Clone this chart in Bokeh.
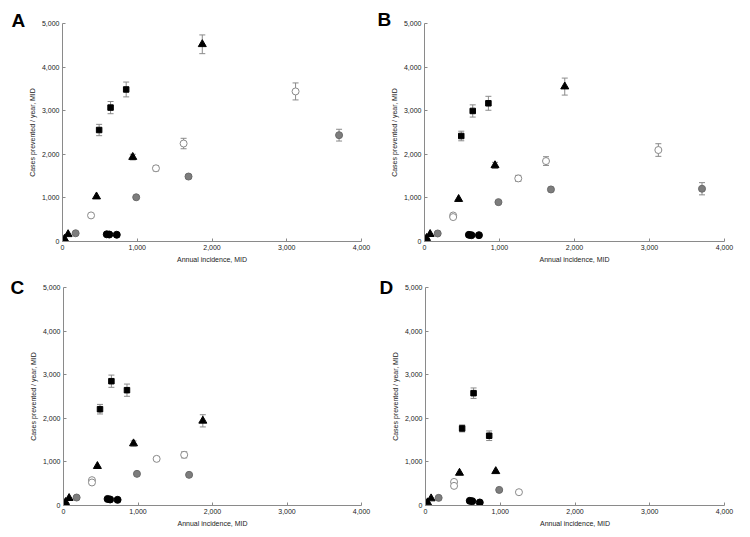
from bokeh.plotting import figure
from bokeh.models import (ColumnDataSource, Whisker, TeeHead, NumeralTickFormatter,
                          FixedTicker, Label, Range1d)
from bokeh.layouts import column, row
from bokeh.embed import file_html
from bokeh.resources import INLINE

# ---------------- data ----------------
X_TICKS = [0, 1000, 2000, 3000, 4000]
Y_TICKS = [0, 1000, 2000, 3000, 4000, 5000]
X_LABEL = "Annual incidence, MID"
Y_LABEL = "Cases prevented / year, MID"

TRI_X = [27, 75, 455, 940, 1870]
SQ_X = [490, 643, 852]
BLK_X = [592, 626, 726]
GREY_X = [176, 986, 1686, 3700]

# Panel A
A_TRI_Y = [60, 165, 1030, 1936, 4523]
A_TRI_E = [0, 0, 0, 65, 215]
A_SQ_Y = [2557, 3071, 3487]
A_SQ_E = [130, 140, 170]
A_BLK_Y = [165, 160, 155]
A_GREY_Y = [189, 1014, 1490, 2439]
A_GREY_E = [0, 0, 50, 135]
A_OPEN_X = [382, 1250, 1620, 3118]
A_OPEN_Y = [598, 1679, 2247, 3442]
A_OPEN_E = [0, 60, 120, 195]

# Panel B
B_TRI_Y = [77, 168, 972, 1746, 3553]
B_TRI_E = [0, 0, 0, 70, 195]
B_SQ_Y = [2420, 2994, 3170]
B_SQ_E = [110, 140, 160]
B_BLK_Y = [153, 145, 145]
B_GREY_Y = [184, 903, 1194, 1210]
B_GREY_E = [0, 0, 50, 140]
B_OPEN_X = [382, 382, 1250, 1620, 3118]
B_OPEN_Y = [597, 560, 1447, 1845, 2098]
B_OPEN_E = [0, 0, 70, 100, 145]

# Panel C
C_TRI_Y = [76, 168, 902, 1422, 1942]
C_TRI_E = [0, 0, 0, 60, 140]
C_SQ_Y = [2209, 2851, 2645]
C_SQ_E = [110, 140, 140]
C_BLK_Y = [150, 138, 130]
C_GREY_X = [176, 986, 1686]
C_GREY_Y = [183, 726, 703]
C_GREY_E = [0, 0, 0]
C_OPEN_X = [382, 382, 1250, 1620]
C_OPEN_Y = [581, 528, 1070, 1162]
C_OPEN_E = [0, 0, 40, 70]

# Panel D
D_TRI_X = [27, 75, 455, 940]
D_TRI_Y = [69, 160, 747, 785]
D_TRI_E = [0, 0, 0, 0]
D_SQ_Y = [1768, 2576, 1600]
D_SQ_E = [80, 120, 110]
D_BLK_Y = [107, 99, 69]
D_GREY_X = [176, 986]
D_GREY_Y = [175, 358]
D_GREY_E = [0, 0]
D_OPEN_X = [382, 382, 1250]
D_OPEN_Y = [541, 450, 305]
D_OPEN_E = [0, 0, 0]

AXIS_GREY = "#8a8a8a"
ERR_GREY = "#8a8a8a"
FONT = "Liberation Sans"


def add_series(p, xs, ys, errs, marker, size, fill, line):
    src = ColumnDataSource(dict(x=xs, y=ys))
    ex = [x for x, e in zip(xs, errs) if e > 0]
    ey = [y for y, e in zip(ys, errs) if e > 0]
    ee = [e for e in errs if e > 0]
    if ex:
        esrc = ColumnDataSource(dict(x=ex, up=[y + e for y, e in zip(ey, ee)],
                                     lo=[y - e for y, e in zip(ey, ee)]))
        w = Whisker(source=esrc, base="x", upper="up", lower="lo",
                    line_color=ERR_GREY, line_width=1,
                    upper_head=TeeHead(size=6, line_color=ERR_GREY, line_width=1),
                    lower_head=TeeHead(size=6, line_color=ERR_GREY, line_width=1))
        p.add_layout(w)
    p.scatter("x", "y", source=src, marker=marker, size=size,
              fill_color=fill, line_color=line, line_width=1)


def make_panel(letter, borders, w, h, label_dx, label_dy, data):
    left, right, top, bottom = borders
    p = figure(width=w, height=h, x_range=Range1d(0, 4000), y_range=Range1d(0, 5000),
               output_backend="svg", toolbar_location=None,
               min_border_left=left, min_border_right=right,
               min_border_top=top, min_border_bottom=bottom)
    p.xgrid.visible = False
    p.ygrid.visible = False
    p.outline_line_color = None
    p.background_fill_color = "white"
    p.border_fill_color = "white"
    p.xaxis.ticker = FixedTicker(ticks=X_TICKS)
    p.yaxis.ticker = FixedTicker(ticks=Y_TICKS)
    p.xaxis.axis_label = X_LABEL
    p.yaxis.axis_label = Y_LABEL
    for ax in p.axis:
        ax.formatter = NumeralTickFormatter(format="0,0")
        ax.axis_line_color = AXIS_GREY
        ax.major_tick_line_color = AXIS_GREY
        ax.major_tick_in = 3
        ax.major_tick_out = 0
        ax.minor_tick_line_color = None
        ax.major_label_text_font = FONT
        ax.major_label_text_font_size = "7px"
        ax.major_label_text_color = "#222222"
        ax.major_label_standoff = 3
        ax.axis_label_text_font = FONT
        ax.axis_label_text_font_size = "7px"
        ax.axis_label_text_font_style = "normal"
        ax.axis_label_text_color = "#222222"
        ax.axis_label_standoff = 3

    fh = h - top - bottom
    # panel letter, attached to the right side panel (not clipped to the frame)
    p.add_layout(Label(x=-label_dx, y=fh - label_dy, x_units="screen", y_units="screen",
                       text=letter, text_font=FONT, text_font_size="19px",
                       text_font_style="bold", text_color="black",
                       text_baseline="alphabetic", text_align="left"), "right")

    (tri, sq, blk, grey, opn) = data
    add_series(p, *grey, "circle", 7, "#7d7d7d", "#6a6a6a")
    add_series(p, *opn, "circle", 7, "white", "#8a8a8a")
    add_series(p, *blk, "circle", 7, "black", "black")
    add_series(p, *tri, "triangle", 8, "black", "black")
    add_series(p, *sq, "square", 5.5, "black", "black")
    return p


zero3 = [0, 0, 0]
pa = make_panel("A", (62, 13, 20, 27), 375, 268, 350, 0,
                ((TRI_X, A_TRI_Y, A_TRI_E), (SQ_X, A_SQ_Y, A_SQ_E), (BLK_X, A_BLK_Y, zero3),
                 (GREY_X, A_GREY_Y, A_GREY_E), (A_OPEN_X, A_OPEN_Y, A_OPEN_E)))
pb = make_panel("B", (49, 18, 23, 27), 367, 268, 347, -4,
                ((TRI_X, B_TRI_Y, B_TRI_E), (SQ_X, B_SQ_Y, B_SQ_E), (BLK_X, B_BLK_Y, zero3),
                 (GREY_X, B_GREY_Y, B_GREY_E), (B_OPEN_X, B_OPEN_Y, B_OPEN_E)))
pc = make_panel("C", (63, 12, 19, 24), 375, 261, 351, 0,
                ((TRI_X, C_TRI_Y, C_TRI_E), (SQ_X, C_SQ_Y, C_SQ_E), (BLK_X, C_BLK_Y, zero3),
                 (C_GREY_X, C_GREY_Y, C_GREY_E), (C_OPEN_X, C_OPEN_Y, C_OPEN_E)))
pd = make_panel("D", (50, 18, 18, 24), 367, 261, 345, 1,
                ((D_TRI_X, D_TRI_Y, D_TRI_E), (SQ_X, D_SQ_Y, D_SQ_E), (BLK_X, D_BLK_Y, zero3),
                 (D_GREY_X, D_GREY_Y, D_GREY_E), (D_OPEN_X, D_OPEN_Y, D_OPEN_E)))

layout = column(row(pa, pb), row(pc, pd))
open("out.html", "w").write(file_html(layout, INLINE))
